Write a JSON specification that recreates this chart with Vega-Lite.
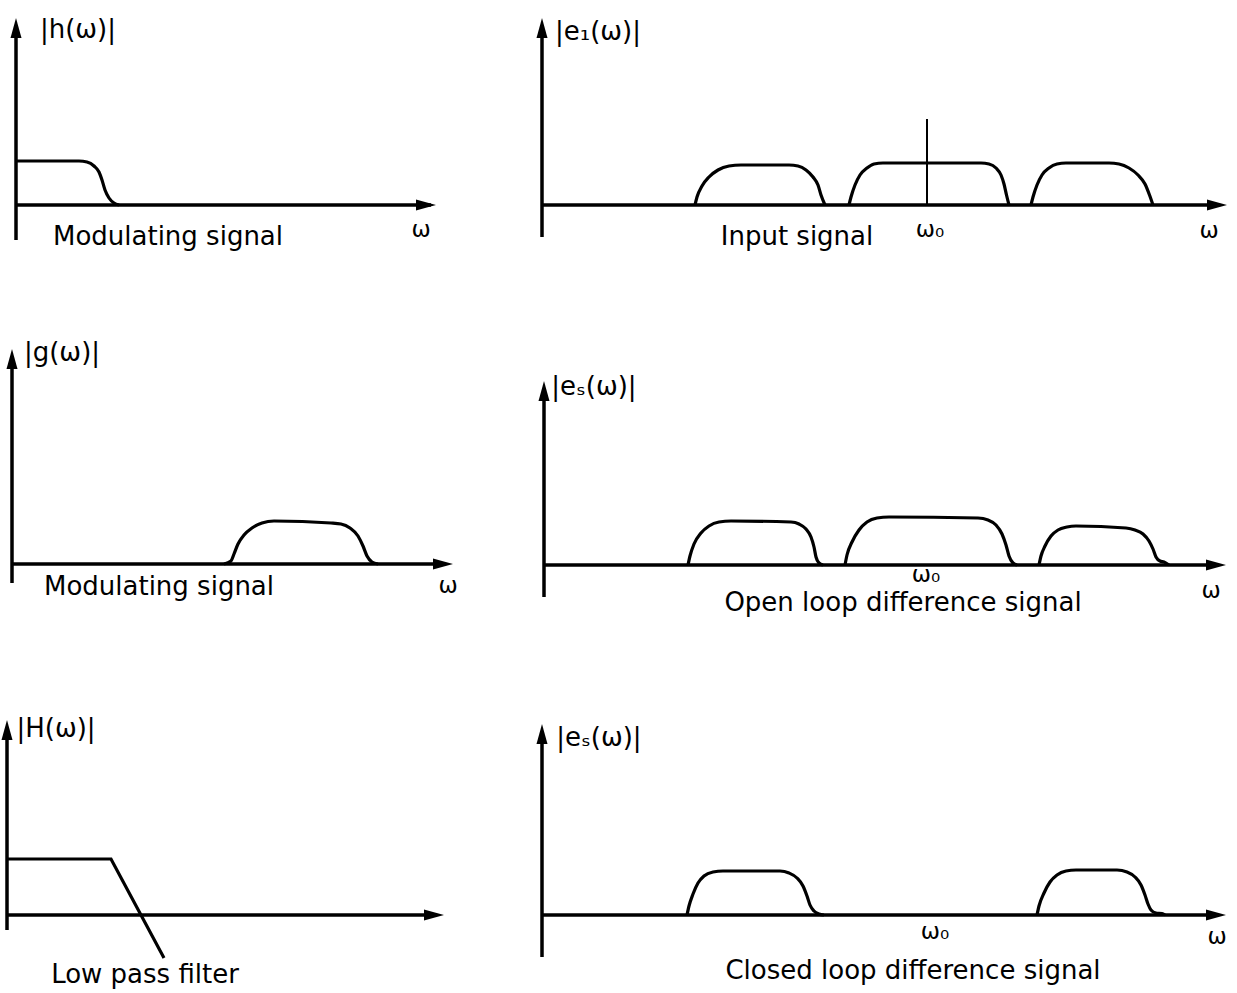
{
"$schema": "https://vega.github.io/schema/vega-lite/v6.json",
"padding": 0,
"background": "white",
"spacing": 0,
"config": {"view": {"stroke": null}},
"datasets": {
"axes": [
{"p":"A","w":0,"a":-3.5,"w2":0,"a2":17.2},{"p":"A","w":0,"a":0,"w2":41.5,"a2":0},
{"p":"C","w":0,"a":-3.2,"w2":0,"a2":17.2},{"p":"C","w":0,"a":0,"w2":67.0,"a2":0},
{"p":"E","w":0,"a":-1.9,"w2":0,"a2":20.5},{"p":"E","w":0,"a":0,"w2":43.0,"a2":0},
{"p":"G","w":0,"a":-3.2,"w2":0,"a2":17.0},{"p":"G","w":0,"a":0,"w2":67.0,"a2":0},
{"p":"I","w":0,"a":-1.5,"w2":0,"a2":18.5},{"p":"I","w":0,"a":0,"w2":42.5,"a2":0},
{"p":"K","w":0,"a":-4.2,"w2":0,"a2":18.0},{"p":"K","w":0,"a":0,"w2":67.0,"a2":0}
],
"heads": [
{"p":"A","w":0,"a":18.7,"dir":"up"},{"p":"A","w":42.0,"a":0,"dir":"right"},
{"p":"C","w":0,"a":18.7,"dir":"up"},{"p":"C","w":68.5,"a":0,"dir":"right"},
{"p":"E","w":0,"a":21.5,"dir":"up"},{"p":"E","w":44.1,"a":0,"dir":"right"},
{"p":"G","w":0,"a":18.4,"dir":"up"},{"p":"G","w":68.2,"a":0,"dir":"right"},
{"p":"I","w":0,"a":19.5,"dir":"up"},{"p":"I","w":43.7,"a":0,"dir":"right"},
{"p":"K","w":0,"a":19.1,"dir":"up"},{"p":"K","w":68.4,"a":0,"dir":"right"}
],
"markers": [
{"p":"C","w":38.5,"a":0,"w2":38.5,"a2":8.6}
],
"lpf": [
{"p":"I","i":1,"w":0,"a":5.6},{"p":"I","i":2,"w":10.4,"a":5.6},{"p":"I","i":3,"w":15.7,"a":-4.3}
],
"curves": [
{"p":"A","s":"A1","i":1,"w":0,"a":4.4},{"p":"A","s":"A1","i":2,"w":6.3,"a":4.4},{"p":"A","s":"A1","i":3,"w":7.1,"a":4.3},{"p":"A","s":"A1","i":4,"w":7.8,"a":3.9},{"p":"A","s":"A1","i":5,"w":8.3,"a":3.3},{"p":"A","s":"A1","i":6,"w":8.6,"a":2.5},{"p":"A","s":"A1","i":7,"w":8.9,"a":1.5},{"p":"A","s":"A1","i":8,"w":9.3,"a":0.7},{"p":"A","s":"A1","i":9,"w":9.8,"a":0.2},{"p":"A","s":"A1","i":10,"w":10.3,"a":0},

{"p":"C","s":"C1","i":1,"w":15.3,"a":0},{"p":"C","s":"C1","i":2,"w":15.5,"a":0.8},{"p":"C","s":"C1","i":3,"w":16.0,"a":1.9},{"p":"C","s":"C1","i":4,"w":16.7,"a":2.8},{"p":"C","s":"C1","i":5,"w":17.6,"a":3.5},{"p":"C","s":"C1","i":6,"w":18.7,"a":3.9},{"p":"C","s":"C1","i":7,"w":19.9,"a":4.0},{"p":"C","s":"C1","i":8,"w":24.7,"a":4.0},{"p":"C","s":"C1","i":9,"w":25.6,"a":3.9},{"p":"C","s":"C1","i":10,"w":26.4,"a":3.5},{"p":"C","s":"C1","i":11,"w":27.1,"a":2.8},{"p":"C","s":"C1","i":12,"w":27.6,"a":2.0},{"p":"C","s":"C1","i":13,"w":27.9,"a":1.0},{"p":"C","s":"C1","i":14,"w":28.3,"a":0},

{"p":"C","s":"C2","i":1,"w":30.7,"a":0},{"p":"C","s":"C2","i":2,"w":30.9,"a":0.8},{"p":"C","s":"C2","i":3,"w":31.3,"a":2.0},{"p":"C","s":"C2","i":4,"w":31.8,"a":3.0},{"p":"C","s":"C2","i":5,"w":32.5,"a":3.7},{"p":"C","s":"C2","i":6,"w":33.2,"a":4.1},{"p":"C","s":"C2","i":7,"w":34.1,"a":4.2},{"p":"C","s":"C2","i":8,"w":43.9,"a":4.2},{"p":"C","s":"C2","i":9,"w":44.7,"a":4.1},{"p":"C","s":"C2","i":10,"w":45.4,"a":3.7},{"p":"C","s":"C2","i":11,"w":45.9,"a":3.0},{"p":"C","s":"C2","i":12,"w":46.2,"a":2.1},{"p":"C","s":"C2","i":13,"w":46.45,"a":1.0},{"p":"C","s":"C2","i":14,"w":46.7,"a":0},

{"p":"C","s":"C3","i":1,"w":48.9,"a":0},{"p":"C","s":"C3","i":2,"w":49.1,"a":0.8},{"p":"C","s":"C3","i":3,"w":49.5,"a":2.0},{"p":"C","s":"C3","i":4,"w":50.0,"a":3.0},{"p":"C","s":"C3","i":5,"w":50.7,"a":3.7},{"p":"C","s":"C3","i":6,"w":51.5,"a":4.1},{"p":"C","s":"C3","i":7,"w":52.4,"a":4.2},{"p":"C","s":"C3","i":8,"w":56.7,"a":4.2},{"p":"C","s":"C3","i":9,"w":57.7,"a":4.1},{"p":"C","s":"C3","i":10,"w":58.7,"a":3.7},{"p":"C","s":"C3","i":11,"w":59.6,"a":3.0},{"p":"C","s":"C3","i":12,"w":60.3,"a":2.1},{"p":"C","s":"C3","i":13,"w":60.75,"a":1.0},{"p":"C","s":"C3","i":14,"w":61.1,"a":0},

{"p":"E","s":"E1","i":1,"w":21.2,"a":0},{"p":"E","s":"E1","i":2,"w":21.9,"a":0.3},{"p":"E","s":"E1","i":3,"w":22.2,"a":1.0},{"p":"E","s":"E1","i":4,"w":22.6,"a":2.0},{"p":"E","s":"E1","i":5,"w":23.2,"a":2.9},{"p":"E","s":"E1","i":6,"w":24.0,"a":3.6},{"p":"E","s":"E1","i":7,"w":25.0,"a":4.1},{"p":"E","s":"E1","i":8,"w":26.2,"a":4.3},{"p":"E","s":"E1","i":9,"w":31.9,"a":4.1},{"p":"E","s":"E1","i":10,"w":32.9,"a":4.0},{"p":"E","s":"E1","i":11,"w":33.8,"a":3.6},{"p":"E","s":"E1","i":12,"w":34.6,"a":2.8},{"p":"E","s":"E1","i":13,"w":35.1,"a":1.8},{"p":"E","s":"E1","i":14,"w":35.5,"a":0.8},{"p":"E","s":"E1","i":15,"w":36.0,"a":0.2},{"p":"E","s":"E1","i":16,"w":36.6,"a":0},

{"p":"G","s":"G1","i":1,"w":14.4,"a":0},{"p":"G","s":"G1","i":2,"w":14.6,"a":0.9},{"p":"G","s":"G1","i":3,"w":15.0,"a":2.1},{"p":"G","s":"G1","i":4,"w":15.7,"a":3.2},{"p":"G","s":"G1","i":5,"w":16.5,"a":3.9},{"p":"G","s":"G1","i":6,"w":17.5,"a":4.3},{"p":"G","s":"G1","i":7,"w":18.7,"a":4.4},{"p":"G","s":"G1","i":8,"w":24.7,"a":4.3},{"p":"G","s":"G1","i":9,"w":25.5,"a":4.1},{"p":"G","s":"G1","i":10,"w":26.2,"a":3.6},{"p":"G","s":"G1","i":11,"w":26.7,"a":2.8},{"p":"G","s":"G1","i":12,"w":27.0,"a":1.8},{"p":"G","s":"G1","i":13,"w":27.2,"a":0.8},{"p":"G","s":"G1","i":14,"w":27.5,"a":0.2},{"p":"G","s":"G1","i":15,"w":27.9,"a":0},

{"p":"G","s":"G2","i":1,"w":30.1,"a":0},{"p":"G","s":"G2","i":2,"w":30.3,"a":1.0},{"p":"G","s":"G2","i":3,"w":30.8,"a":2.3},{"p":"G","s":"G2","i":4,"w":31.5,"a":3.5},{"p":"G","s":"G2","i":5,"w":32.3,"a":4.3},{"p":"G","s":"G2","i":6,"w":33.3,"a":4.7},{"p":"G","s":"G2","i":7,"w":34.5,"a":4.8},{"p":"G","s":"G2","i":8,"w":43.4,"a":4.7},{"p":"G","s":"G2","i":9,"w":44.4,"a":4.5},{"p":"G","s":"G2","i":10,"w":45.2,"a":4.0},{"p":"G","s":"G2","i":11,"w":45.8,"a":3.1},{"p":"G","s":"G2","i":12,"w":46.2,"a":2.0},{"p":"G","s":"G2","i":13,"w":46.5,"a":0.9},{"p":"G","s":"G2","i":14,"w":46.9,"a":0.2},{"p":"G","s":"G2","i":15,"w":47.3,"a":0},

{"p":"G","s":"G3","i":1,"w":49.5,"a":0},{"p":"G","s":"G3","i":2,"w":49.7,"a":0.9},{"p":"G","s":"G3","i":3,"w":50.1,"a":1.9},{"p":"G","s":"G3","i":4,"w":50.7,"a":2.9},{"p":"G","s":"G3","i":5,"w":51.4,"a":3.5},{"p":"G","s":"G3","i":6,"w":52.3,"a":3.8},{"p":"G","s":"G3","i":7,"w":53.2,"a":3.9},{"p":"G","s":"G3","i":8,"w":58.2,"a":3.7},{"p":"G","s":"G3","i":9,"w":59.1,"a":3.5},{"p":"G","s":"G3","i":10,"w":59.9,"a":3.1},{"p":"G","s":"G3","i":11,"w":60.5,"a":2.4},{"p":"G","s":"G3","i":12,"w":60.9,"a":1.6},{"p":"G","s":"G3","i":13,"w":61.2,"a":0.8},{"p":"G","s":"G3","i":14,"w":61.6,"a":0.4},{"p":"G","s":"G3","i":15,"w":62.0,"a":0.3},{"p":"G","s":"G3","i":16,"w":62.5,"a":0},

{"p":"K","s":"K1","i":1,"w":14.5,"a":0},{"p":"K","s":"K1","i":2,"w":14.7,"a":0.9},{"p":"K","s":"K1","i":3,"w":15.1,"a":2.1},{"p":"K","s":"K1","i":4,"w":15.6,"a":3.2},{"p":"K","s":"K1","i":5,"w":16.2,"a":3.9},{"p":"K","s":"K1","i":6,"w":17.1,"a":4.3},{"p":"K","s":"K1","i":7,"w":18.1,"a":4.4},{"p":"K","s":"K1","i":8,"w":23.8,"a":4.4},{"p":"K","s":"K1","i":9,"w":24.7,"a":4.2},{"p":"K","s":"K1","i":10,"w":25.5,"a":3.7},{"p":"K","s":"K1","i":11,"w":26.1,"a":2.9},{"p":"K","s":"K1","i":12,"w":26.5,"a":1.9},{"p":"K","s":"K1","i":13,"w":26.8,"a":1.0},{"p":"K","s":"K1","i":14,"w":27.2,"a":0.4},{"p":"K","s":"K1","i":15,"w":27.7,"a":0.1},{"p":"K","s":"K1","i":16,"w":28.2,"a":0},

{"p":"K","s":"K2","i":1,"w":49.5,"a":0},{"p":"K","s":"K2","i":2,"w":49.7,"a":0.9},{"p":"K","s":"K2","i":3,"w":50.2,"a":2.2},{"p":"K","s":"K2","i":4,"w":50.8,"a":3.3},{"p":"K","s":"K2","i":5,"w":51.5,"a":4.0},{"p":"K","s":"K2","i":6,"w":52.4,"a":4.4},{"p":"K","s":"K2","i":7,"w":53.4,"a":4.5},{"p":"K","s":"K2","i":8,"w":57.5,"a":4.5},{"p":"K","s":"K2","i":9,"w":58.5,"a":4.3},{"p":"K","s":"K2","i":10,"w":59.3,"a":3.8},{"p":"K","s":"K2","i":11,"w":59.9,"a":3.0},{"p":"K","s":"K2","i":12,"w":60.3,"a":2.0},{"p":"K","s":"K2","i":13,"w":60.6,"a":1.1},{"p":"K","s":"K2","i":14,"w":60.9,"a":0.5},{"p":"K","s":"K2","i":15,"w":61.4,"a":0.2},{"p":"K","s":"K2","i":16,"w":62.0,"a":0.15},{"p":"K","s":"K2","i":17,"w":62.3,"a":0}
],
"titles": [
{"p":"A","w":6.2,"a":17.5,"t":"|h(ω)|"},
{"p":"C","w":5.6,"a":17.3,"t":"|e₁(ω)|"},
{"p":"E","w":5.0,"a":21.1,"t":"|g(ω)|"},
{"p":"G","w":5.0,"a":17.8,"t":"|eₛ(ω)|"},
{"p":"I","w":4.9,"a":18.6,"t":"|H(ω)|"},
{"p":"K","w":5.7,"a":17.7,"t":"|eₛ(ω)|"}
],
"captions": [
{"p":"A","w":15.2,"a":-3.2,"t":"Modulating signal"},
{"p":"C","w":25.5,"a":-3.2,"t":"Input signal"},
{"p":"E","w":14.7,"a":-2.3,"t":"Modulating signal"},
{"p":"G","w":35.9,"a":-3.8,"t":"Open loop difference signal"},
{"p":"I","w":13.8,"a":-6.0,"t":"Low pass filter"},
{"p":"K","w":37.1,"a":-5.6,"t":"Closed loop difference signal"}
],
"symbols": [
{"p":"A","w":40.5,"a":-2.5,"t":"ω"},
{"p":"C","w":38.8,"a":-2.5,"t":"ω₀"},{"p":"C","w":66.7,"a":-2.6,"t":"ω"},
{"p":"E","w":43.6,"a":-2.2,"t":"ω"},
{"p":"G","w":38.2,"a":-1.0,"t":"ω₀"},{"p":"G","w":66.7,"a":-2.6,"t":"ω"},
{"p":"K","w":39.3,"a":-1.7,"t":"ω₀"},{"p":"K","w":67.5,"a":-2.2,"t":"ω"}
]
},
"vconcat": [
{"hconcat": [
{"width": 460, "height": 330,
"encoding": {"x": {"field":"w","type":"quantitative","scale":{"domain":[-1.5,44.5],"nice":false,"zero":false},"axis":null},
"y": {"field":"a","type":"quantitative","scale":{"domain":[-12.5,20.5],"nice":false,"zero":false},"axis":null}},
"layer": [
{"data":{"name":"axes"},"transform":[{"filter":"datum.p==='A'"}],"mark":{"type":"rule","color":"black","strokeWidth":3.5},"encoding":{"x2":{"field":"w2"},"y2":{"field":"a2"}}},
{"data":{"name":"heads"},"transform":[{"filter":"datum.p==='A'"}],"mark":{"type":"point","filled":true,"color":"black","size":400,"opacity":1},"encoding":{"shape":{"field":"dir","type":"nominal","scale":{"domain":["up","right"],"range":["M0,0L-0.55,2L0.55,2Z","M0,0L-2,-0.55L-2,0.55Z"]},"legend":null}}},
{"data":{"name":"curves"},"transform":[{"filter":"datum.p==='A'"}],"mark":{"type":"line","color":"black","strokeWidth":3.2,"interpolate":"monotone"},"encoding":{"detail":{"field":"s","type":"nominal"},"order":{"field":"i","type":"quantitative"}}},
{"data":{"name":"titles"},"transform":[{"filter":"datum.p==='A'"}],"mark":{"type":"text","font":"DejaVu Sans","fontSize":26,"color":"black","baseline":"middle","align":"center"},"encoding":{"text":{"field":"t"}}},
{"data":{"name":"captions"},"transform":[{"filter":"datum.p==='A'"}],"mark":{"type":"text","font":"DejaVu Sans","fontSize":26,"color":"black","baseline":"middle","align":"center"},"encoding":{"text":{"field":"t"}}},
{"data":{"name":"symbols"},"transform":[{"filter":"datum.p==='A'"}],"mark":{"type":"text","font":"DejaVu Sans","fontSize":23,"color":"black","baseline":"middle","align":"center"},"encoding":{"text":{"field":"t"}}}
]},
{"width": 707, "height": 330,
"encoding": {"x": {"field":"w","type":"quantitative","scale":{"domain":[-1.1,69.6],"nice":false,"zero":false},"axis":null},
"y": {"field":"a","type":"quantitative","scale":{"domain":[-12.5,20.5],"nice":false,"zero":false},"axis":null}},
"layer": [
{"data":{"name":"axes"},"transform":[{"filter":"datum.p==='C'"}],"mark":{"type":"rule","color":"black","strokeWidth":3.5},"encoding":{"x2":{"field":"w2"},"y2":{"field":"a2"}}},
{"data":{"name":"markers"},"transform":[{"filter":"datum.p==='C'"}],"mark":{"type":"rule","color":"black","strokeWidth":2},"encoding":{"x2":{"field":"w2"},"y2":{"field":"a2"}}},
{"data":{"name":"heads"},"transform":[{"filter":"datum.p==='C'"}],"mark":{"type":"point","filled":true,"color":"black","size":400,"opacity":1},"encoding":{"shape":{"field":"dir","type":"nominal","scale":{"domain":["up","right"],"range":["M0,0L-0.55,2L0.55,2Z","M0,0L-2,-0.55L-2,0.55Z"]},"legend":null}}},
{"data":{"name":"curves"},"transform":[{"filter":"datum.p==='C'"}],"mark":{"type":"line","color":"black","strokeWidth":3.2,"interpolate":"monotone"},"encoding":{"detail":{"field":"s","type":"nominal"},"order":{"field":"i","type":"quantitative"}}},
{"data":{"name":"titles"},"transform":[{"filter":"datum.p==='C'"}],"mark":{"type":"text","font":"DejaVu Sans","fontSize":26,"color":"black","baseline":"middle","align":"center"},"encoding":{"text":{"field":"t"}}},
{"data":{"name":"captions"},"transform":[{"filter":"datum.p==='C'"}],"mark":{"type":"text","font":"DejaVu Sans","fontSize":26,"color":"black","baseline":"middle","align":"center"},"encoding":{"text":{"field":"t"}}},
{"data":{"name":"symbols"},"transform":[{"filter":"datum.p==='C'"}],"mark":{"type":"text","font":"DejaVu Sans","fontSize":23,"color":"black","baseline":"middle","align":"center"},"encoding":{"text":{"field":"t"}}}
]}
], "spacing": 70, "bounds": "flush"},
{"hconcat": [
{"width": 460, "height": 330,
"encoding": {"x": {"field":"w","type":"quantitative","scale":{"domain":[-1.1,44.9],"nice":false,"zero":false},"axis":null},
"y": {"field":"a","type":"quantitative","scale":{"domain":[-9.6,23.4],"nice":false,"zero":false},"axis":null}},
"layer": [
{"data":{"name":"axes"},"transform":[{"filter":"datum.p==='E'"}],"mark":{"type":"rule","color":"black","strokeWidth":3.5},"encoding":{"x2":{"field":"w2"},"y2":{"field":"a2"}}},
{"data":{"name":"heads"},"transform":[{"filter":"datum.p==='E'"}],"mark":{"type":"point","filled":true,"color":"black","size":400,"opacity":1},"encoding":{"shape":{"field":"dir","type":"nominal","scale":{"domain":["up","right"],"range":["M0,0L-0.55,2L0.55,2Z","M0,0L-2,-0.55L-2,0.55Z"]},"legend":null}}},
{"data":{"name":"curves"},"transform":[{"filter":"datum.p==='E'"}],"mark":{"type":"line","color":"black","strokeWidth":3.2,"interpolate":"monotone"},"encoding":{"detail":{"field":"s","type":"nominal"},"order":{"field":"i","type":"quantitative"}}},
{"data":{"name":"titles"},"transform":[{"filter":"datum.p==='E'"}],"mark":{"type":"text","font":"DejaVu Sans","fontSize":26,"color":"black","baseline":"middle","align":"center"},"encoding":{"text":{"field":"t"}}},
{"data":{"name":"captions"},"transform":[{"filter":"datum.p==='E'"}],"mark":{"type":"text","font":"DejaVu Sans","fontSize":26,"color":"black","baseline":"middle","align":"center"},"encoding":{"text":{"field":"t"}}},
{"data":{"name":"symbols"},"transform":[{"filter":"datum.p==='E'"}],"mark":{"type":"text","font":"DejaVu Sans","fontSize":23,"color":"black","baseline":"middle","align":"center"},"encoding":{"text":{"field":"t"}}}
]},
{"width": 707, "height": 330,
"encoding": {"x": {"field":"w","type":"quantitative","scale":{"domain":[-1.3,69.4],"nice":false,"zero":false},"axis":null},
"y": {"field":"a","type":"quantitative","scale":{"domain":[-9.5,23.5],"nice":false,"zero":false},"axis":null}},
"layer": [
{"data":{"name":"axes"},"transform":[{"filter":"datum.p==='G'"}],"mark":{"type":"rule","color":"black","strokeWidth":3.5},"encoding":{"x2":{"field":"w2"},"y2":{"field":"a2"}}},
{"data":{"name":"heads"},"transform":[{"filter":"datum.p==='G'"}],"mark":{"type":"point","filled":true,"color":"black","size":400,"opacity":1},"encoding":{"shape":{"field":"dir","type":"nominal","scale":{"domain":["up","right"],"range":["M0,0L-0.55,2L0.55,2Z","M0,0L-2,-0.55L-2,0.55Z"]},"legend":null}}},
{"data":{"name":"curves"},"transform":[{"filter":"datum.p==='G'"}],"mark":{"type":"line","color":"black","strokeWidth":3.2,"interpolate":"monotone"},"encoding":{"detail":{"field":"s","type":"nominal"},"order":{"field":"i","type":"quantitative"}}},
{"data":{"name":"titles"},"transform":[{"filter":"datum.p==='G'"}],"mark":{"type":"text","font":"DejaVu Sans","fontSize":26,"color":"black","baseline":"middle","align":"center"},"encoding":{"text":{"field":"t"}}},
{"data":{"name":"captions"},"transform":[{"filter":"datum.p==='G'"}],"mark":{"type":"text","font":"DejaVu Sans","fontSize":26,"color":"black","baseline":"middle","align":"center"},"encoding":{"text":{"field":"t"}}},
{"data":{"name":"symbols"},"transform":[{"filter":"datum.p==='G'"}],"mark":{"type":"text","font":"DejaVu Sans","fontSize":23,"color":"black","baseline":"middle","align":"center"},"encoding":{"text":{"field":"t"}}}
]}
], "spacing": 70, "bounds": "flush"},
{"hconcat": [
{"width": 460, "height": 333,
"encoding": {"x": {"field":"w","type":"quantitative","scale":{"domain":[-0.6,45.4],"nice":false,"zero":false},"axis":null},
"y": {"field":"a","type":"quantitative","scale":{"domain":[-7.8,25.5],"nice":false,"zero":false},"axis":null}},
"layer": [
{"data":{"name":"axes"},"transform":[{"filter":"datum.p==='I'"}],"mark":{"type":"rule","color":"black","strokeWidth":3.5},"encoding":{"x2":{"field":"w2"},"y2":{"field":"a2"}}},
{"data":{"name":"heads"},"transform":[{"filter":"datum.p==='I'"}],"mark":{"type":"point","filled":true,"color":"black","size":400,"opacity":1},"encoding":{"shape":{"field":"dir","type":"nominal","scale":{"domain":["up","right"],"range":["M0,0L-0.55,2L0.55,2Z","M0,0L-2,-0.55L-2,0.55Z"]},"legend":null}}},
{"data":{"name":"lpf"},"transform":[{"filter":"datum.p==='I'"}],"mark":{"type":"line","color":"black","strokeWidth":3.2,"interpolate":"linear"},"encoding":{"order":{"field":"i","type":"quantitative"}}},
{"data":{"name":"titles"},"transform":[{"filter":"datum.p==='I'"}],"mark":{"type":"text","font":"DejaVu Sans","fontSize":26,"color":"black","baseline":"middle","align":"center"},"encoding":{"text":{"field":"t"}}},
{"data":{"name":"captions"},"transform":[{"filter":"datum.p==='I'"}],"mark":{"type":"text","font":"DejaVu Sans","fontSize":26,"color":"black","baseline":"middle","align":"center"},"encoding":{"text":{"field":"t"}}}
]},
{"width": 707, "height": 333,
"encoding": {"x": {"field":"w","type":"quantitative","scale":{"domain":[-1.1,69.6],"nice":false,"zero":false},"axis":null},
"y": {"field":"a","type":"quantitative","scale":{"domain":[-7.8,25.5],"nice":false,"zero":false},"axis":null}},
"layer": [
{"data":{"name":"axes"},"transform":[{"filter":"datum.p==='K'"}],"mark":{"type":"rule","color":"black","strokeWidth":3.5},"encoding":{"x2":{"field":"w2"},"y2":{"field":"a2"}}},
{"data":{"name":"heads"},"transform":[{"filter":"datum.p==='K'"}],"mark":{"type":"point","filled":true,"color":"black","size":400,"opacity":1},"encoding":{"shape":{"field":"dir","type":"nominal","scale":{"domain":["up","right"],"range":["M0,0L-0.55,2L0.55,2Z","M0,0L-2,-0.55L-2,0.55Z"]},"legend":null}}},
{"data":{"name":"curves"},"transform":[{"filter":"datum.p==='K'"}],"mark":{"type":"line","color":"black","strokeWidth":3.2,"interpolate":"monotone"},"encoding":{"detail":{"field":"s","type":"nominal"},"order":{"field":"i","type":"quantitative"}}},
{"data":{"name":"titles"},"transform":[{"filter":"datum.p==='K'"}],"mark":{"type":"text","font":"DejaVu Sans","fontSize":26,"color":"black","baseline":"middle","align":"center"},"encoding":{"text":{"field":"t"}}},
{"data":{"name":"captions"},"transform":[{"filter":"datum.p==='K'"}],"mark":{"type":"text","font":"DejaVu Sans","fontSize":26,"color":"black","baseline":"middle","align":"center"},"encoding":{"text":{"field":"t"}}},
{"data":{"name":"symbols"},"transform":[{"filter":"datum.p==='K'"}],"mark":{"type":"text","font":"DejaVu Sans","fontSize":23,"color":"black","baseline":"middle","align":"center"},"encoding":{"text":{"field":"t"}}}
]}
], "spacing": 70, "bounds": "flush"}
]
}
